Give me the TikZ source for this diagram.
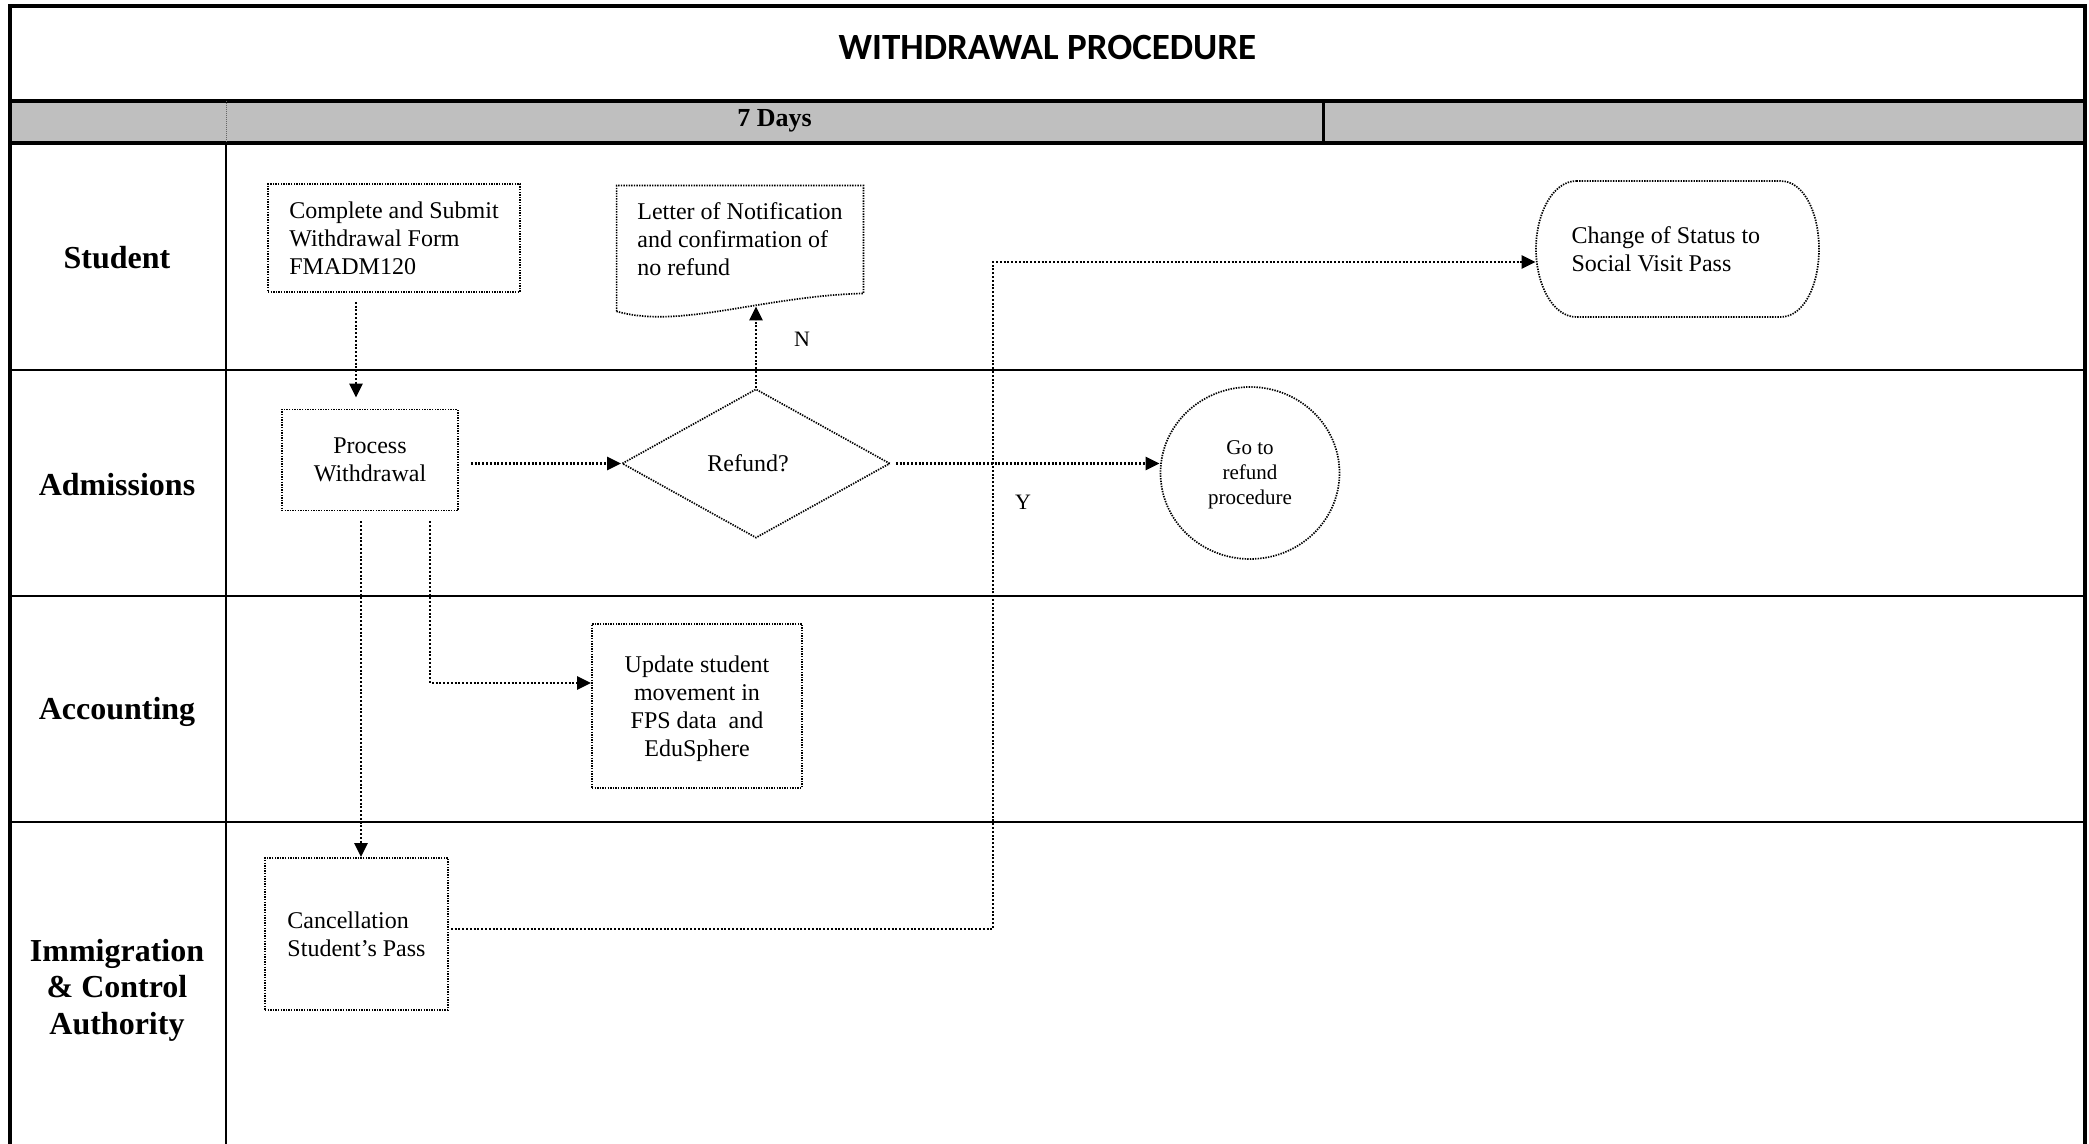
\documentclass[tikz,border=0pt]{standalone}
\usepackage{fontspec}
\setmainfont{Liberation Serif}
\newfontfamily\headfont{Carlito}
\usetikzlibrary{shapes.geometric,arrows.meta,calc}

\begin{document}
\begin{tikzpicture}[x=0.5pt,y=-0.5pt,
  frame/.style={line width=2pt},
  lane/.style={line width=1.2pt},
  boxline/.style={line width=0.85pt, dash pattern=on 0.7pt off 0.6pt},
  txt/.style={font=\fontsize{12}{14}\selectfont},
  stepbox/.style={txt, draw, boxline, rectangle, inner sep=0pt},
  lowtext/.style={text depth=0pt},
  flow/.style={line width=1.3pt, dash pattern=on 1pt off 0.9pt,
    -{Triangle[length=7pt,width=6.5pt]}},
  lanelabel/.style={font=\fontsize{16}{18.3}\selectfont\bfseries, align=center},
  branch/.style={font=\fontsize{11}{13}\selectfont}
]
\useasboundingbox (0,0) rectangle (2089,1144);

% header band
\fill[black!25] (10,101) rectangle (2085,143);
\draw[frame] (10,101) -- (2085,101);
\draw[frame] (10,143) -- (2085,143);
\draw[line width=1.5pt] (1323,101) -- (1323,143);
\draw[line width=0.4pt, dash pattern=on 0.4pt off 0.6pt, black!60] (226,101) -- (226,143);

% outer frame
\draw[frame, line join=miter] (10,1144) -- (10,6) -- (2085,6) -- (2085,1144);

% swimlanes
\draw[lane] (10,370) -- (2085,370);
\draw[lane] (10,596) -- (2085,596);
\draw[lane] (10,822) -- (2085,822);
\draw[line width=1pt] (226,143) -- (226,1144);

% titles
\node[font=\headfont\bfseries\fontsize{18.5}{22}\selectfont] (title) at (1047.5,48) {WITHDRAWAL PROCEDURE};
\node[font=\fontsize{13}{15}\selectfont\bfseries] (days) at (774.5,121) {7 Days};

% lane labels
\node[lanelabel] (lstudent) at (117,258) {Student};
\node[lanelabel] (ladmissions) at (117,485) {Admissions};
\node[lanelabel] (laccounting) at (117,712) {Accounting};
\node[lanelabel] (limmigration) at (117,990) {Immigration\\\& Control\\Authority};

% process steps
\node[stepbox, minimum width=126pt, minimum height=54pt, align=left] (complete) at (394,238)
  {Complete and Submit\\Withdrawal Form\\FMADM120};

\node[txt, inner sep=0pt, minimum width=123pt, minimum height=53pt, align=left] (letter) at (740,239)
  {Letter of Notification\\and confirmation of\\no refund};
\draw[boxline] ($(letter.south west)+(0,19)$) -- (letter.north west) -- (letter.north east)
  -- ($(letter.south east)+(0,1)$)
  .. controls ($(letter.south east)+(-103,4)$) and ($(letter.south west)+(63,37)$) .. cycle;
\coordinate (letterwave) at ($(letter.south)+(15,14)$);

\node[stepbox, lowtext, minimum width=88pt, minimum height=50.5pt, align=center] (process) at (370,460)
  {Process\\Withdrawal};

\node[draw, boxline, diamond, aspect=1.8, minimum width=134pt, minimum height=74.5pt,
  inner sep=0pt] (refund) at (756,463.5) {};
\node[txt, lowtext] (refundtext) at ([xshift=-4pt]refund.center) {Refund?};

\node[draw, boxline, lowtext, ellipse, minimum width=89.5pt, minimum height=86pt, inner sep=0pt,
  align=center, font=\fontsize{10.5}{12.5}\selectfont] (goto) at (1250,473)
  {Go to\\refund\\procedure};

\node[txt, inner sep=0pt, minimum width=141.5pt, minimum height=68pt, text width=106pt,
  align=flush left] (status) at (1677.5,249) {Change of Status to\\Social Visit Pass};
\draw[boxline, shift={(status.center)}]
  (-101,-68) -- (103,-68)
  .. controls (127,-68) and (141.5,-35) .. (141.5,0)
  .. controls (141.5,35) and (127,68) .. (103,68)
  -- (-101,68)
  .. controls (-125,68) and (-141.5,35) .. (-141.5,0)
  .. controls (-141.5,-35) and (-125,-68) .. (-101,-68) -- cycle;

\node[stepbox, lowtext, minimum width=105pt, minimum height=82pt, align=center] (update) at (697,706)
  {Update student\\movement in\\FPS data\ \ and\\EduSphere};

\node[stepbox, minimum width=91.5pt, minimum height=76pt, align=left] (cancel) at (356.5,934)
  {Cancellation\\Student’s Pass};

% branch labels
\node[branch] (nlabel) at (802,339) {N};
\node[branch] (ylabel) at (1023,502) {Y};

% connectors
\draw[flow, shorten <=4.5pt, shorten >=5.5pt]
  ([xshift=-19pt]complete.south) -- ([xshift=-19pt]complete.south |- process.north);
\draw[flow, shorten <=6pt] (process.east |- refund.west) -- (refund.west);
\draw[flow] (refund.north) -- (refund.north |- letterwave);
\draw[flow, shorten <=2.5pt] (refund.east) -- (refund.east -| goto.west);
\draw[flow, shorten <=5pt] ([xshift=30pt]process.south) |- ([yshift=11.5pt]update.west);
\draw[flow, shorten <=5pt] ([xshift=-4.5pt]process.south) -- ([xshift=-4.5pt]process.south |- cancel.north);
\coordinate (cancelout) at ([yshift=2.5pt]cancel.east);
\coordinate (statusin) at ([yshift=-6.5pt]status.west);
\coordinate (jog) at (993,0);
\draw[flow, shorten <=1pt] (cancelout) -| (jog |- statusin) -- (statusin);
\end{tikzpicture}
\end{document}
